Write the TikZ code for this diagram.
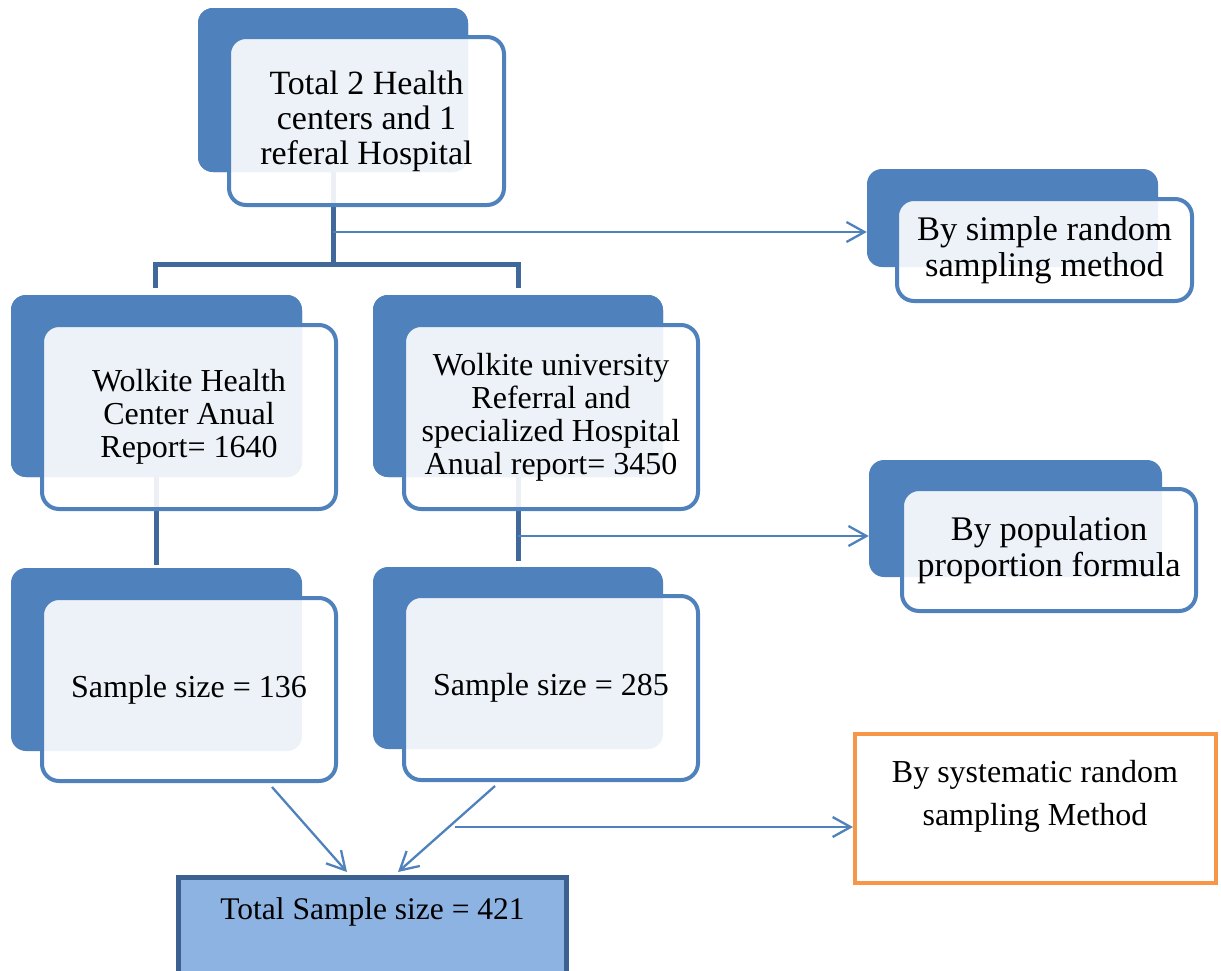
\documentclass[tikz,border=0pt]{standalone}
\usepackage{fontspec}
\setmainfont{Liberation Serif}
\usetikzlibrary{arrows.meta}
\definecolor{sa}{HTML}{4F81BD}
\definecolor{conncol}{HTML}{41689A}
\definecolor{totfill}{HTML}{8DB3E2}
\definecolor{totline}{HTML}{3C6191}
\definecolor{orng}{HTML}{F79646}
\begin{document}
\begin{tikzpicture}[x=1pt,y=-1pt,
  backbox/.style={fill=sa, draw=none, rounded corners=15pt, inner sep=0pt},
  frontbox/.style={draw=sa, line width=4pt, fill=white, fill opacity=0.9, text opacity=1,
    rounded corners=17pt, inner sep=0pt, align=center, text=black},
  bigtext/.style={font=\fontsize{34}{35}\selectfont},
  rtext/.style={font=\fontsize{34.5}{36}\selectfont},
  midtext/.style={font=\fontsize{32}{33}\selectfont},
  connline/.style={draw=conncol, line width=5pt},
  arr/.style={draw=sa, line width=2.3pt, -{Straight Barb[length=18pt,width=20pt]}}
]
\useasboundingbox (0,0) rectangle (1221,970);
\clip (0,0) rectangle (1221,970);

% back boxes (positions needed for connectors)
\node[backbox, minimum width=270pt, minimum height=164pt] (topb) at (333,90) {};
\node[backbox, minimum width=291pt, minimum height=182pt] (hcb) at (156.5,386) {};
\node[backbox, minimum width=290pt, minimum height=182pt] (hosb) at (518,386) {};
\node[backbox, minimum width=291pt, minimum height=183pt] (s1b) at (156.5,659.5) {};
\node[backbox, minimum width=290pt, minimum height=182pt] (s2b) at (518,658) {};
\node[backbox, minimum width=291pt, minimum height=98pt] (srb) at (1012.5,218) {};
\node[backbox, minimum width=293pt, minimum height=117pt] (popb) at (1015.5,518.5) {};

% connectors (behind front boxes)
\coordinate (jt) at (333,264);
\coordinate (jl) at (155,288);
\coordinate (jr) at (518,288);
\coordinate (a1) at (333,232);
\coordinate (ml) at (156.5,565);
\coordinate (mr) at (518,561);
\coordinate (a2) at (518,536);
\draw[connline] (topb.center) -- (jt);
\draw[connline] (jl) |- (jt) -| (jr);
\draw[connline] (hcb.center) -- (ml);
\draw[connline] (hosb.center) -- (mr);
\draw[arr] (a1) -- (srb.west |- a1);
\draw[arr] (a2) -- (popb.west |- a2);

% redraw back boxes over the connector stubs
\node[backbox, minimum width=270pt, minimum height=164pt] at (topb.center) {};
\node[backbox, minimum width=291pt, minimum height=182pt] at (hcb.center) {};
\node[backbox, minimum width=290pt, minimum height=182pt] at (hosb.center) {};

% front boxes
\node[frontbox, bigtext, minimum width=275pt, minimum height=168pt] (top) at (366.5,121)
  {Total 2 Health\\centers and 1\\referal Hospital};
\node[frontbox, midtext, minimum width=294pt, minimum height=184pt] (hc) at (189,417)
  {Wolkite Health\\Center Anual\\Report= 1640};
\node[frontbox, midtext, minimum width=294pt, minimum height=184pt] (hos) at (551,417)
  {Wolkite university\\Referral and\\specialized Hospital\\Anual report= 3450};
\node[frontbox, midtext, minimum width=294pt, minimum height=183pt] (s1) at (189,689.5)
  {Sample size = 136};
\node[frontbox, midtext, minimum width=294pt, minimum height=184pt] (s2) at (551,688)
  {Sample size = 285};
\node[frontbox, rtext, minimum width=295pt, minimum height=102pt] (sr) at (1044.5,250)
  {By simple random\\sampling method};
\node[frontbox, rtext, minimum width=294pt, minimum height=122pt] (pop) at (1049,550)
  {By population\\proportion formula};

% systematic box
\node[draw=orng, line width=4pt, fill=white, minimum width=361pt, minimum height=149pt,
  inner sep=0pt] (sys) at (1035.5,808.5) {};
\node[font=\fontsize{32}{43}\selectfont, align=center, inner sep=0pt] (systxt) at (1035,796)
  {By systematic random\\sampling Method};

% total box
\node[draw=totline, line width=5pt, fill=totfill, minimum width=388pt, anchor=north,
  inner xsep=0pt, inner ysep=18.5pt, text height=24pt, text depth=120pt,
  font=\fontsize{31.5}{33}\selectfont] (total) at (372.5,874.5) {Total Sample size = 421};

% bottom arrows
\coordinate (b1) at (272,787);
\coordinate (b2) at (495,786);
\coordinate (t1) at (347,872);
\coordinate (t2) at (398,872);
\coordinate (a3) at (455,827);
\draw[arr] (b1) -- (t1);
\draw[arr] (b2) -- (t2);
\draw[arr] (a3) -- (sys.west |- a3);
\end{tikzpicture}
\end{document}
